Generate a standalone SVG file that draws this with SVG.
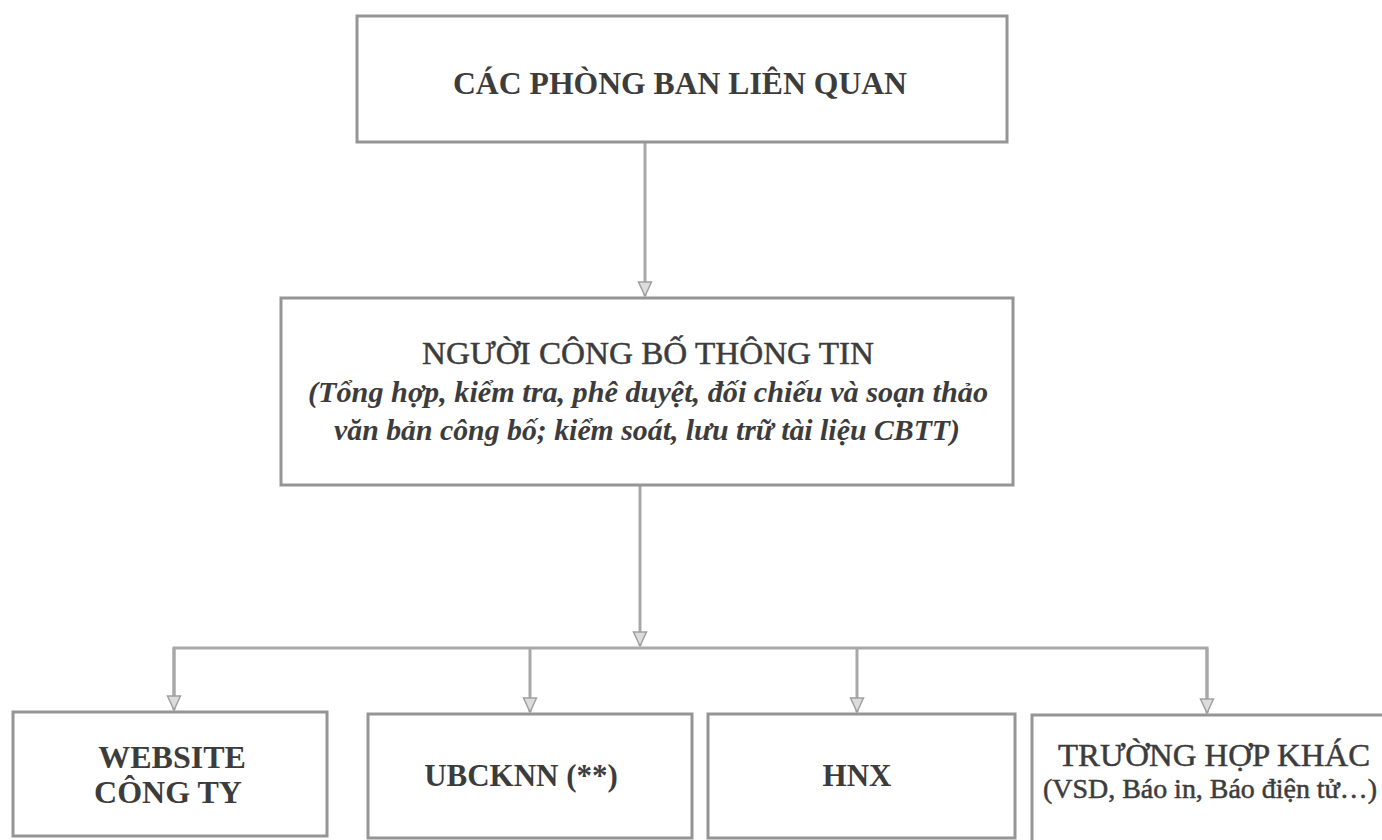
<svg xmlns="http://www.w3.org/2000/svg" width="1382" height="840" viewBox="0 0 1382 840">
<style>
.box{fill:#ffffff;stroke:#959595;stroke-width:3}
.t{font-family:"Liberation Serif","Times New Roman",serif;fill:#3c3c3c;text-anchor:middle}
.b{font-weight:bold}
.n{stroke:#3c3c3c;stroke-width:0.5}
.i{font-style:italic;font-weight:bold}
.c{fill:none;stroke:#a8a8a8;stroke-width:3}
</style>
<defs>
<marker id="ah" viewBox="0 0 16 16" refX="15" refY="8" markerWidth="16" markerHeight="16" markerUnits="userSpaceOnUse" orient="auto">
<path d="M1,1.5 L15,8 L1,14.5 Z" fill="#dcdcdc" stroke="#a0a0a0" stroke-width="1.5"/>
</marker>
</defs>
<rect width="1382" height="840" fill="#ffffff"/>
<g id="connectors">
<line class="c" x1="645" y1="142" x2="645" y2="296" marker-end="url(#ah)"/>
<line class="c" x1="640" y1="486" x2="640" y2="646" marker-end="url(#ah)"/>
<polyline class="c" points="174,700 174,648 1207,648 1207,700"/>
<line class="c" x1="1207" y1="648" x2="1207" y2="713" marker-end="url(#ah)"/>
<line class="c" x1="530" y1="648" x2="530" y2="712" marker-end="url(#ah)"/>
<line class="c" x1="857" y1="648" x2="857" y2="712" marker-end="url(#ah)"/>
<line class="c" x1="174" y1="648" x2="174" y2="710" marker-end="url(#ah)"/>
</g>
<g id="node-phongban">
<rect class="box" x="357" y="16" width="650" height="126"/>
<text class="t b" x="680" y="94" font-size="31" textLength="454" lengthAdjust="spacingAndGlyphs">CÁC PHÒNG BAN LIÊN QUAN</text>
</g>
<g id="node-nguoicongbo">
<rect class="box" x="281" y="298" width="732" height="187"/>
<text class="t n" x="648" y="364" font-size="32" textLength="452" lengthAdjust="spacingAndGlyphs">NGƯỜI CÔNG BỐ THÔNG TIN</text>
<text class="t i" x="648" y="402" font-size="30" textLength="680" lengthAdjust="spacingAndGlyphs">(Tổng hợp, kiểm tra, phê duyệt, đối chiếu và soạn thảo</text>
<text class="t i" x="647" y="440" font-size="30" textLength="626" lengthAdjust="spacingAndGlyphs">văn bản công bố; kiểm soát, lưu trữ tài liệu CBTT)</text>
</g>
<g id="node-website">
<rect class="box" x="13" y="712" width="314" height="124"/>
<text class="t b" x="172" y="768" font-size="32">WEBSITE</text>
<text class="t b" x="168" y="803" font-size="32">CÔNG TY</text>
</g>
<g id="node-ubcknn">
<rect class="box" x="368" y="714" width="324" height="124"/>
<text class="t b" x="521" y="786" font-size="31">UBCKNN (**)</text>
</g>
<g id="node-hnx">
<rect class="box" x="708" y="714" width="307" height="124"/>
<text class="t b" x="857" y="786" font-size="31">HNX</text>
</g>
<g id="node-khac">
<rect class="box" x="1032" y="715" width="360" height="130"/>
<text class="t n" x="1214" y="766" font-size="32" textLength="312" lengthAdjust="spacingAndGlyphs">TRƯỜNG HỢP KHÁC</text>
<text class="t n" x="1210" y="798" font-size="27" textLength="334" lengthAdjust="spacingAndGlyphs">(VSD, Báo in, Báo điện tử…)</text>
</g>
</svg>
